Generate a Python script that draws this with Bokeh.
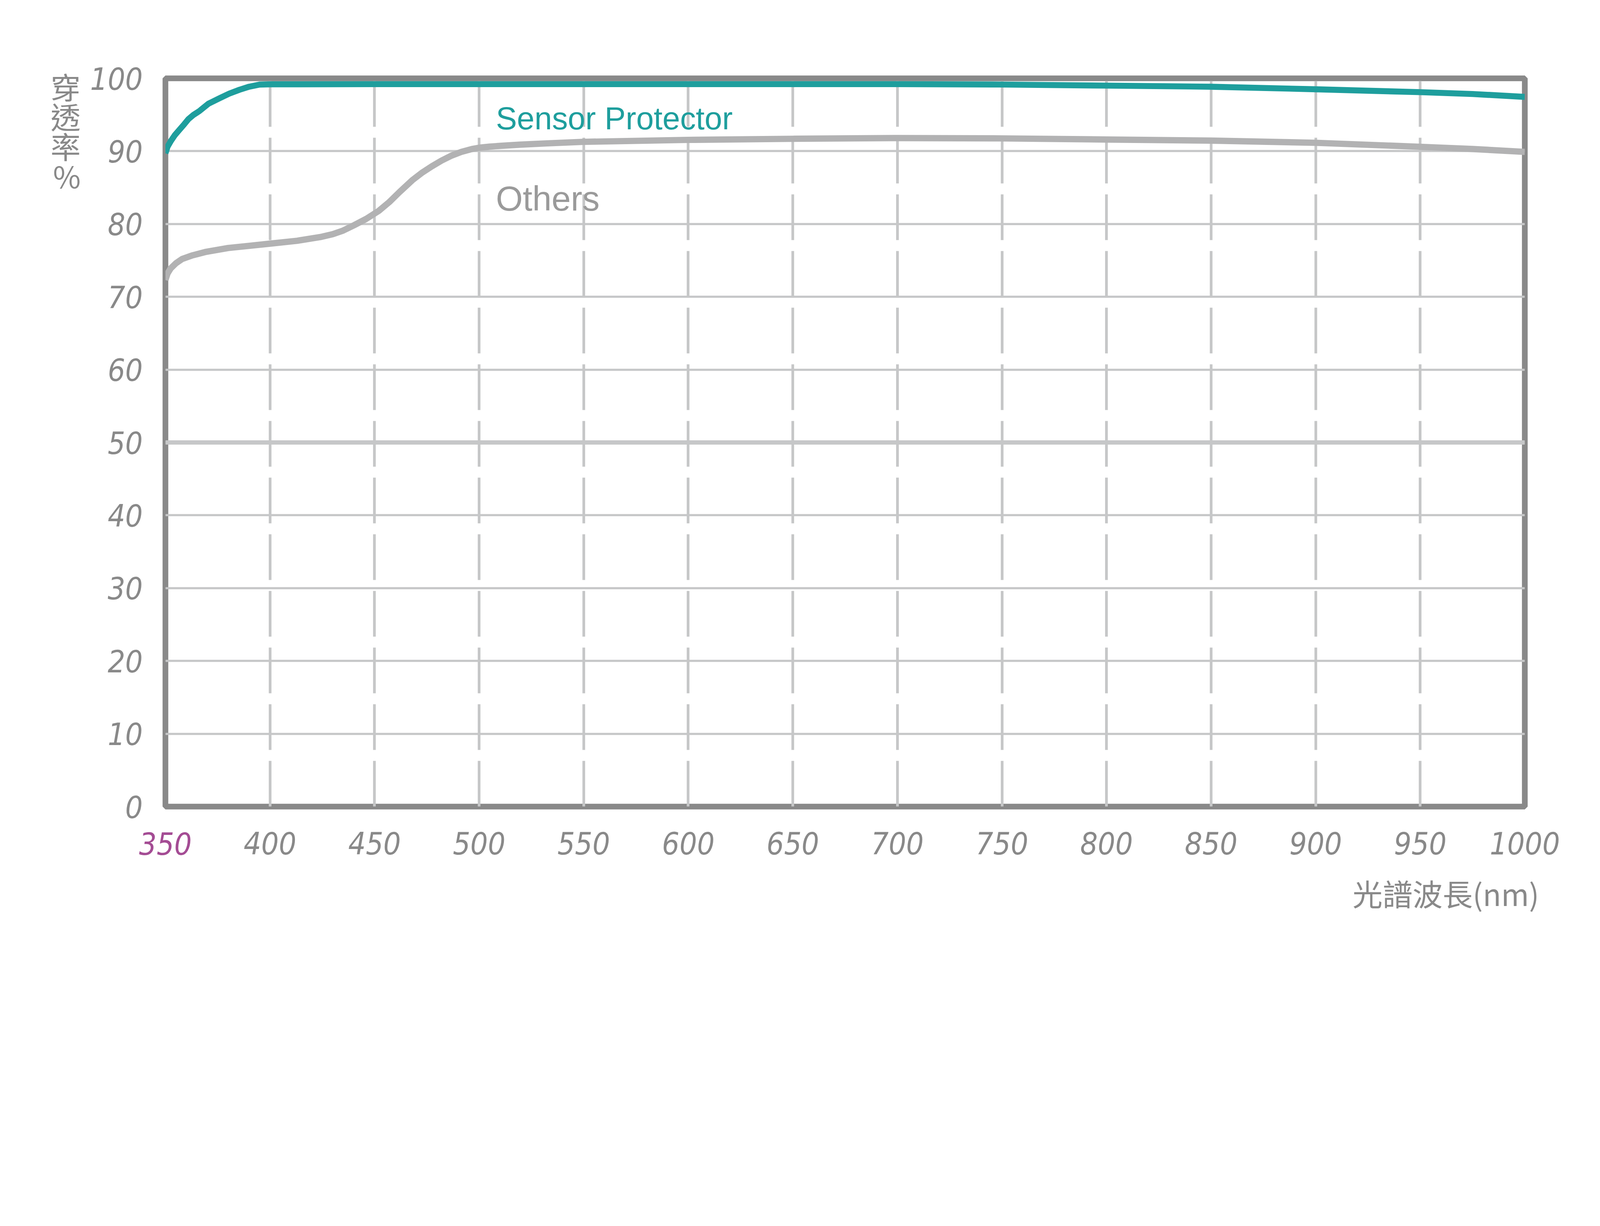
from bokeh.plotting import figure
from bokeh.models import Range1d, FixedTicker, Label, Span, LinearAxis
from bokeh.embed import file_html
from bokeh.resources import INLINE

# transmission curves
sensor_nm = [350, 351, 352.6, 354.5, 356.6, 359, 361, 363.5, 366.2, 370.5, 375.8, 380.5, 385.4, 390, 395, 400, 450, 500, 600, 700, 750, 800, 850, 900, 950, 975, 1000]
sensor_pct = [89.7, 90.6, 91.4, 92.2, 92.9, 93.7, 94.4, 95.0, 95.5, 96.5, 97.26, 97.9, 98.43, 98.85, 99.14, 99.18, 99.2, 99.2, 99.2, 99.2, 99.15, 99.0, 98.85, 98.5, 98.1, 97.85, 97.45]

others_nm = [350, 351, 352.5, 355, 358, 363, 369, 380, 390, 400, 413, 424, 430, 435, 440, 446, 452, 457, 462, 468, 472.5, 477.3, 482, 486.9, 491.5, 496.5, 500, 505, 510.8, 520, 532.3, 550, 600, 650, 700, 750, 800, 850, 900, 950, 975, 1000]
others_pct = [72.3, 73.2, 73.9, 74.6, 75.2, 75.7, 76.15, 76.7, 77.0, 77.3, 77.7, 78.2, 78.6, 79.1, 79.8, 80.7, 81.8, 83.0, 84.4, 86.0, 87.0, 87.9, 88.7, 89.4, 89.9, 90.29, 90.47, 90.62, 90.74, 90.9, 91.07, 91.28, 91.55, 91.7, 91.8, 91.75, 91.6, 91.45, 91.15, 90.6, 90.3, 89.9]

x_ticks = [350, 400, 450, 500, 550, 600, 650, 700, 750, 800, 850, 900, 950, 1000]
y_ticks = [0, 10, 20, 30, 40, 50, 60, 70, 80, 90, 100]
start_tick = 350
mid_level = 50

x_title_text = "光譜波長(nm)"
y_title_chars = ["穿", "透", "率", "%"]

GRAY = "#898989"
GRID = "#c6c7c8"
TEAL = "#1e9e9d"
LIGHT = "#b2b2b3"
PURPLE = "#a44c94"
NUM_FONT = "DejaVu Sans Condensed"
CJK_FONT = "Noto Sans CJK TC"

S = 1 / 1.3  # page is viewed at about 1.3 device pixels per css pixel
TICK_STANDOFF = 64
TICK_BOX = 60  # height bokeh gives one row of tick labels
PAD = "\u3000"  # ideographic space, used to push the centred axis titles towards the corner


def px(v):
    return f"{v * S:.1f}px"


def bare(ax):
    ax.axis_line_color = None
    ax.major_tick_line_color = None
    ax.minor_tick_line_color = None
    ax.major_tick_out = 0
    ax.major_tick_in = 0
    ax.major_label_text_color = GRAY
    ax.major_label_text_font = NUM_FONT
    ax.major_label_text_font_style = "italic"
    ax.major_label_text_font_size = px(102)
    ax.axis_label_text_color = GRAY
    ax.axis_label_text_font = CJK_FONT
    ax.axis_label_text_font_style = "normal"
    ax.axis_label_text_font_size = px(100)


p = figure(width=4086, height=2398, x_range=Range1d(350, 1000), y_range=Range1d(0, 100),
           output_backend="svg", toolbar_location=None,
           min_border_left=423, min_border_right=183, min_border_top=200, min_border_bottom=334)

p.outline_line_color = GRAY
p.outline_line_width = 19 * S

p.xaxis.ticker = FixedTicker(ticks=[t for t in x_ticks if t != start_tick])
p.yaxis.ticker = FixedTicker(ticks=y_ticks)
bare(p.xaxis[0])
bare(p.yaxis[0])
p.xaxis.major_label_standoff = TICK_STANDOFF
p.yaxis.major_label_standoff = 58

# the first wavelength tick is drawn in purple on an axis of its own, pulled up into the same row
first_axis = LinearAxis(ticker=FixedTicker(ticks=[start_tick]))
bare(first_axis)
first_axis.major_label_text_color = PURPLE
first_axis.major_label_standoff = -TICK_BOX
p.add_layout(first_axis, "below")

# axis titles on tickless axes
x_title = LinearAxis(ticker=FixedTicker(ticks=[]), axis_label=PAD * 40 + x_title_text,
                     axis_label_standoff=39, major_label_standoff=0)
bare(x_title)

y_title = LinearAxis(ticker=FixedTicker(ticks=[]), axis_label="\n".join(y_title_chars + [PAD] * 21),
                     axis_label_orientation="horizontal", axis_label_standoff=21, major_label_standoff=0)
bare(y_title)
y_title.axis_label_text_line_height = 0.685
p.add_layout(x_title, "below")
p.add_layout(y_title, "left")

p.xgrid.grid_line_color = GRID
p.xgrid.grid_line_width = 9 * S
p.xgrid.grid_line_dash = "117 28"
p.ygrid.grid_line_color = GRID
p.ygrid.grid_line_width = 7 * S
p.add_layout(Span(location=mid_level, dimension="width", line_color=GRID, line_width=14 * S, level="underlay"))

p.line(others_nm, others_pct, line_color=LIGHT, line_width=21 * S, line_join="round")
p.line(sensor_nm, sensor_pct, line_color=TEAL, line_width=20 * S, line_join="round")

p.add_layout(Label(x=508, y=94.5, text="Sensor Protector", text_color=TEAL, text_font="Liberation Sans",
                   text_font_size=px(105), text_baseline="alphabetic"))
p.add_layout(Label(x=508, y=83.45, text="Others", text_color="#9a9a9a", text_font="Liberation Sans",
                   text_font_size=px(115), text_baseline="alphabetic"))

open("out.html", "w").write(file_html(p, INLINE))
